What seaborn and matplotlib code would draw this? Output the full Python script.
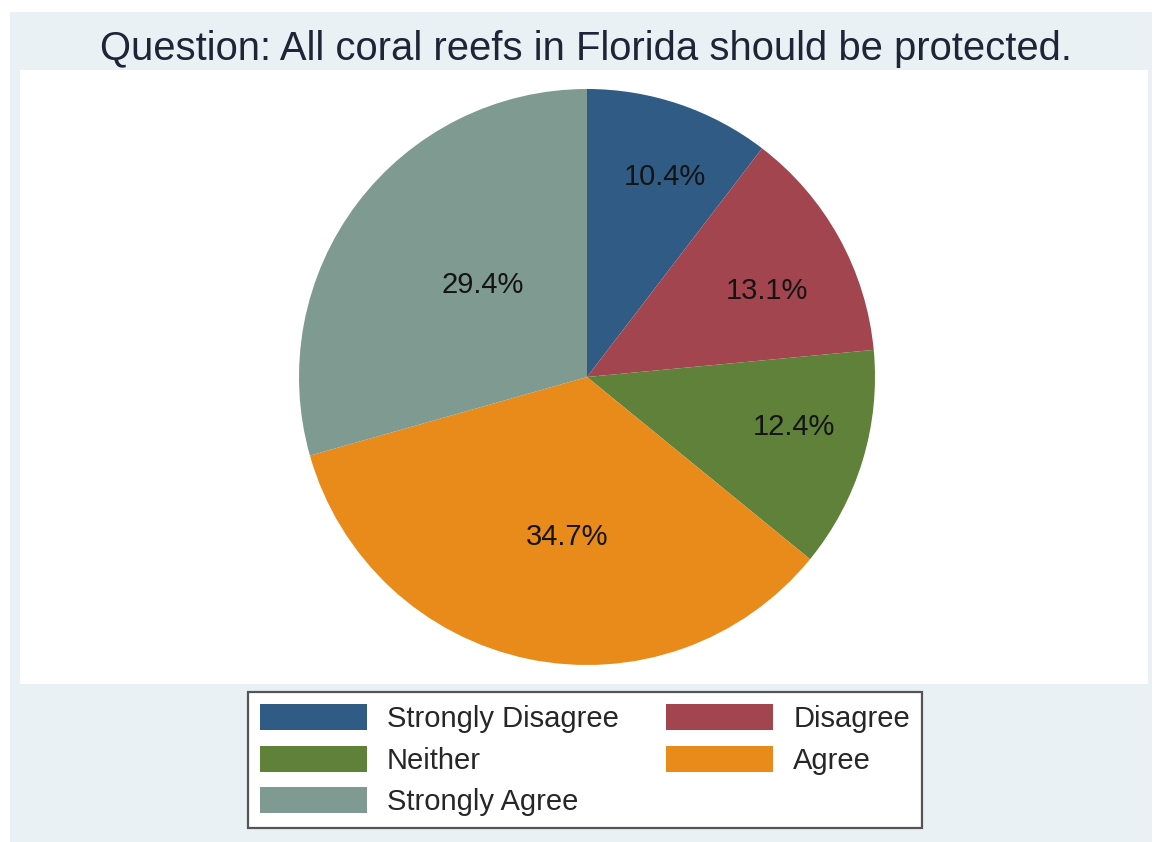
import matplotlib
matplotlib.use("Agg")
import matplotlib.pyplot as plt
from matplotlib.patches import Rectangle, Patch
import numpy as np
import seaborn as sns

sns.set_theme(style="white")
plt.rcParams["font.family"] = ["Liberation Sans", "DejaVu Sans"]

# Survey responses
categories = ["Strongly Disagree", "Disagree", "Neither", "Agree", "Strongly Agree"]
shares = [10.4, 13.1, 12.4, 34.7, 29.4]
colors = ["#2f5b84", "#a2454f", "#5f8139", "#e88b1b", "#7f9a90"]
title = "Question: All coral reefs in Florida should be protected."

# placement of the percentage labels: fraction of radius and turn (deg) from wedge middle
label_radius = [0.745, 0.693, 0.74, 0.56, 0.482]
label_turn = [-2.6, -3.5, 3.3, 4.6, -4.5]

W, H = 1157, 842
fig = plt.figure(figsize=(W / 100, H / 100), dpi=100, facecolor="white")

# light graph-region background
fig.patches.append(Rectangle((10 / W, 0), 1142 / W, (H - 12) / H,
                             transform=fig.transFigure, facecolor="#eaf1f4",
                             edgecolor="none", zorder=-1))

# white plot region
px0, px1, py0, py1 = 20, 1148, 70, 684
ax = fig.add_axes([px0 / W, (H - py1) / H, (px1 - px0) / W, (py1 - py0) / H])
ax.set_zorder(1)

r_px = 288
cx_off = (587 - (px0 + px1) / 2) / r_px
cy_off = -(377 - (py0 + py1) / 2) / r_px
wedges, _ = ax.pie(shares, colors=colors, startangle=90, counterclock=False,
                   radius=1.0, center=(cx_off, cy_off),
                   wedgeprops=dict(linewidth=0))
ax.set_frame_on(True)
ax.set_facecolor("white")
for s in ax.spines.values():
    s.set_visible(False)
ax.set_xticks([])
ax.set_yticks([])
half_w = (px1 - px0) / 2 / r_px
half_h = (py1 - py0) / 2 / r_px
ax.set_xlim(-half_w, half_w)
ax.set_ylim(-half_h, half_h)

for w, val, rr, turn in zip(wedges, shares, label_radius, label_turn):
    ang = np.deg2rad((w.theta1 + w.theta2) / 2 + turn)
    ax.text(cx_off + rr * np.cos(ang), cy_off + rr * np.sin(ang), f"{val:.1f}%",
            ha="center", va="center", fontsize=21, color="#141414")

fig.text(586 / W, (H - 49) / H, title, ha="center", va="center",
         fontsize=28.8, color="#1d2536")

# legend, filled row by row
order = [0, 2, 4, 1, 3]
handles = [Patch(facecolor=colors[i], edgecolor="none", label=categories[i]) for i in order]
leg = fig.legend(handles=handles, ncol=2, loc="upper center",
                 bbox_to_anchor=(585 / W, (H - 692) / H), bbox_transform=fig.transFigure,
                 fontsize=21, frameon=True, fancybox=False, shadow=False, framealpha=1,
                 handlelength=3.66, handleheight=1.0, handletextpad=0.7,
                 columnspacing=1.62, labelspacing=0.42, borderpad=0.42,
                 borderaxespad=0)
leg.set_zorder(2)
leg.get_frame().set_edgecolor("#555555")
leg.get_frame().set_linewidth(1.6)
leg.get_frame().set_facecolor("white")

fig.savefig("out.png", dpi=100, facecolor="white")
